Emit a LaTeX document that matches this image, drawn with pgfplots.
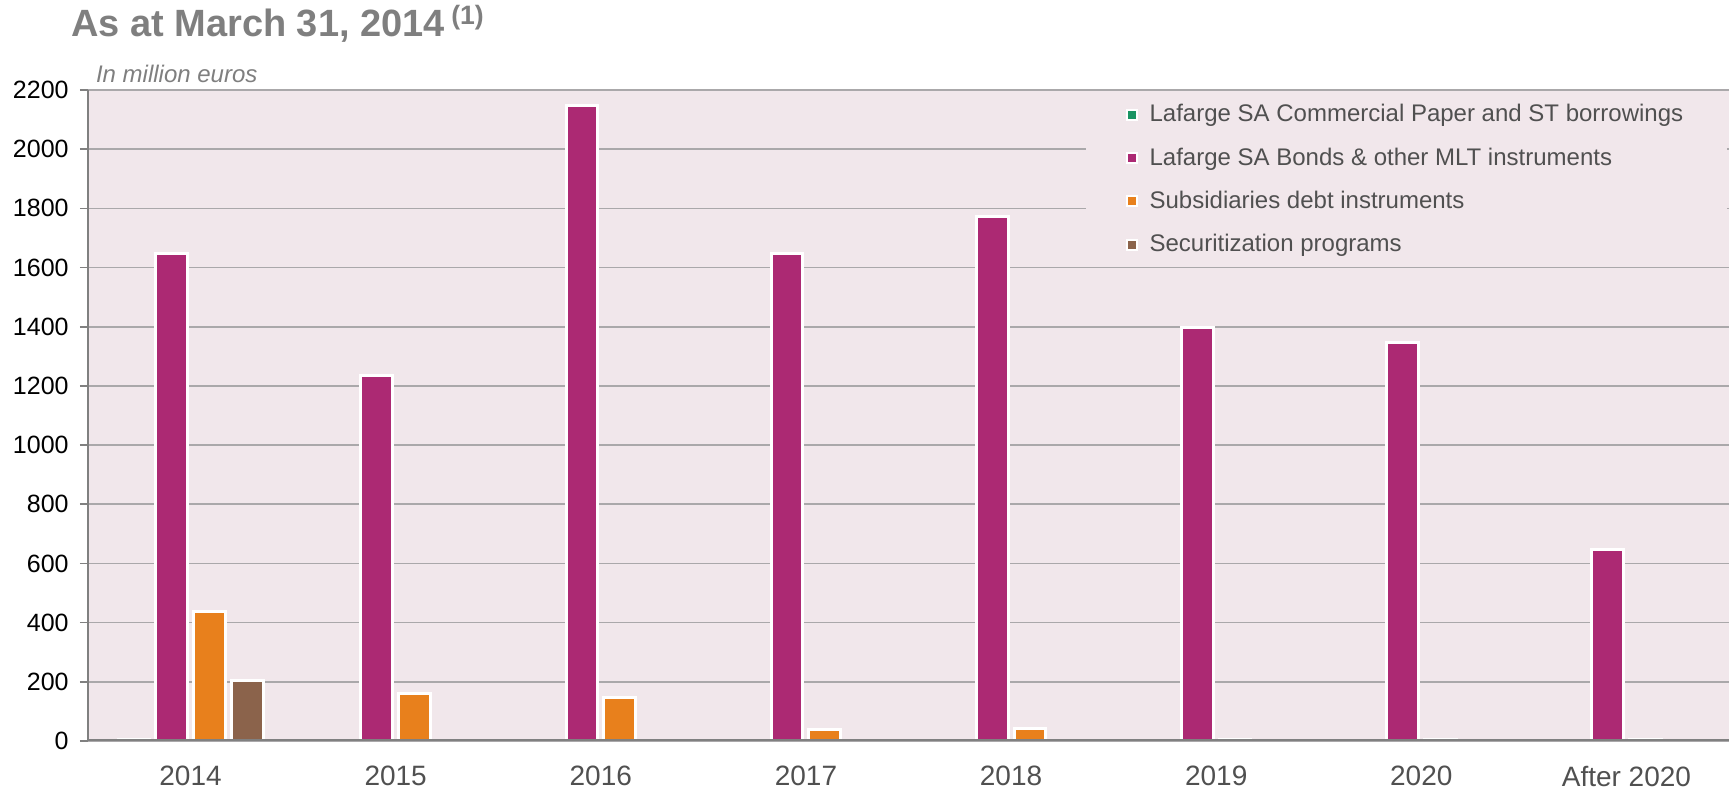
\documentclass[border=0pt]{standalone}
\usepackage{pgfplots}
\pgfplotsset{compat=1.18}
\usepackage{fontspec}
\setmainfont{Liberation Sans}
\definecolor{bg}{RGB}{241,231,235}
\definecolor{cgreen}{RGB}{26,148,99}
\definecolor{cmag}{RGB}{172,41,115}
\definecolor{corange}{RGB}{232,128,28}
\definecolor{cbrown}{RGB}{139,99,75}
\definecolor{gridc}{RGB}{170,168,170}
\definecolor{axc}{RGB}{128,128,128}
\definecolor{txt}{RGB}{80,80,80}
\definecolor{ttl}{RGB}{127,127,127}
\pgfplotsset{
  mybar/.style={fill=#1, draw=white, line width=1.5pt,
    legend image code/.code={\fill[#1,draw=white,line width=1pt] (0pt,-2.5pt) rectangle (5pt,2.5pt); \path (8.5pt,0pt);}},
}
\begin{document}
\begin{tikzpicture}
\useasboundingbox (-44pt,-24.5pt) rectangle (820.5pt,370.5pt);
\begin{axis}[
  at={(0pt,0pt)}, anchor=south west,
  scale only axis, width=820.5pt, height=325.5pt,
  xmin=-0.5, xmax=7.5, ymin=0, ymax=2200,
  ybar, bar width=0.155,
  ytick={0,200,...,2200},
  xtick={0,...,7},
  xticklabels={2014,2015,2016,2017,2018,2019,2020,After 2020},
  /pgf/number format/assume math mode=true,
  /pgf/number format/1000 sep={},
  axis x line*=bottom, axis y line*=left,
  x axis line style={draw=none},
  y axis line style={-, draw=axc, line width=0.8pt},
  xtick style={draw=none},
  ytick style={draw=axc, line width=0.8pt},
  tick align=outside, major tick length=4pt,
  ymajorgrids, grid style={draw=gridc, line width=0.8pt},
  axis background/.style={fill=bg},
  yticklabel style={font=\fontsize{12.5}{14}\selectfont, text=black, inner sep=0pt, xshift=-5.5pt},
  xticklabel style={font=\fontsize{14}{16}\selectfont, text=txt, inner sep=0pt, yshift=-8.5pt},
  legend style={at={(0.608,0.997)}, anchor=north west, fill=bg, draw=none,
    font=\fontsize{12}{14}\selectfont, text=txt, row sep=7.5pt, inner xsep=20pt, inner ysep=4pt},
  legend cell align=left,
]
\addplot[mybar=cgreen, bar shift=-0.276] coordinates {(0,5) (1,0) (2,0) (3,0) (4,0) (5,0) (6,0) (7,0)};
\addplot[mybar=cmag, bar shift=-0.092] coordinates {(0,1648) (1,1235) (2,2148) (3,1648) (4,1772) (5,1396) (6,1347) (7,648)};
\addplot[mybar=corange, bar shift=0.092] coordinates {(0,438) (1,162) (2,147) (3,38) (4,43) (5,5) (6,5) (7,5)};
\addplot[mybar=cbrown, bar shift=0.276] coordinates {(0,203) (1,0) (2,0) (3,0) (4,0) (5,0) (6,0) (7,0)};
\legend{Lafarge SA Commercial Paper and ST borrowings, Lafarge SA Bonds \& other MLT instruments, Subsidiaries debt instruments, Securitization programs}
\draw[axc, line width=2pt] (axis cs:-0.5,0) -- (axis cs:7.5,0);
\end{axis}
\node[anchor=base west, text=ttl, font=\bfseries\fontsize{19}{22}\selectfont] at (-12pt,352pt) {As at March 31, 2014\,\textsuperscript{(1)}};
\node[anchor=base west, text=ttl, font=\itshape\fontsize{12}{14}\selectfont] at (0.5pt,329pt) {In million euros};
\end{tikzpicture}
\end{document}
